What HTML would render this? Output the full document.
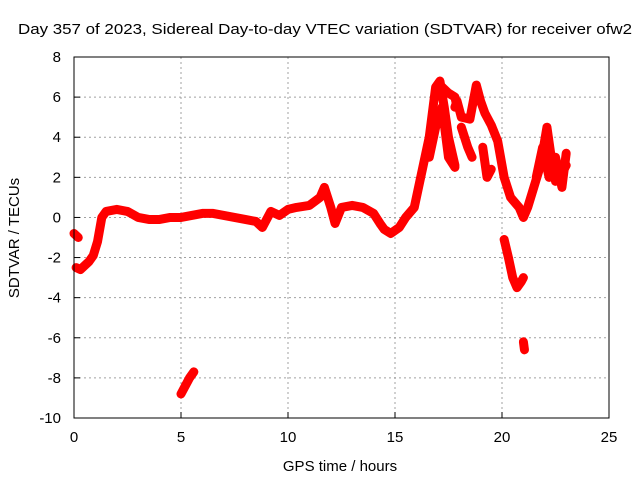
<!DOCTYPE html>
<html><head><meta charset="utf-8"><style>
body{margin:0;background:#fff;}
svg{display:block;font-family:"Liberation Sans",sans-serif;}
</style></head><body>
<svg id="chart" width="640" height="480" viewBox="0 0 640 480">
<rect x="0" y="0" width="640" height="480" fill="#fff"/>
<text x="18" y="34" font-size="15" textLength="614" lengthAdjust="spacingAndGlyphs">Day 357 of 2023, Sidereal Day-to-day VTEC variation (SDTVAR) for receiver ofw2</text>
<g id="grid"></g>
<g id="axes"></g>
<g id="marks"></g>
<rect x="74" y="57" width="535" height="361" fill="none" stroke="#000" stroke-width="1"/>
<text x="340" y="471" font-size="15" text-anchor="middle">GPS time / hours</text>
<text transform="translate(19,238) rotate(-90)" font-size="15" text-anchor="middle">SDTVAR / TECUs</text>
</svg>
<script>
const xTicks=[0,5,10,15,20,25];
const yTicks=[-10,-8,-6,-4,-2,0,2,4,6,8];
const seg1T=[0,0.1,0.2];
const seg1V=[-0.8,-0.9,-1.0];
const seg2T=[0.1,0.3,0.5,0.7,0.9,1.1,1.3,1.5,2,2.5,3,3.5,4,4.5,5,5.5,6,6.5,7,7.5,8,8.5,8.8,9.2,9.6,10,10.4,11,11.5,11.7,12,12.2,12.5,13,13.5,14,14.3,14.5,14.8,15.2,15.5,15.9,16.2,16.6,16.9,17.1,17.3,17.5,17.8];
const seg2V=[-2.5,-2.6,-2.4,-2.2,-1.9,-1.2,0,0.3,0.4,0.3,0,-0.1,-0.1,0,0,0.1,0.2,0.2,0.1,0,-0.1,-0.2,-0.5,0.3,0.1,0.4,0.5,0.6,1.0,1.5,0.5,-0.3,0.5,0.6,0.5,0.2,-0.3,-0.6,-0.8,-0.5,0,0.5,2,4,6.5,6.8,5.5,4,2.6];
const seg3T=[17.8,17.9,18.1,18.5,18.8,19.0,19.2,19.5,19.8,20.1,20.4,20.8,21.0,21.2,21.4,21.8,22.1,22.3,22.5,22.8,23.0];
const seg3V=[5.5,5.8,5.0,4.9,6.6,5.8,5.2,4.6,3.8,2.0,1.0,0.5,0.0,0.5,1.2,2.6,4.5,3.0,1.8,2.2,2.6];
const seg4T=[5.0,5.2,5.4,5.6];
const seg4V=[-8.8,-8.4,-8.0,-7.7];
const seg5T=[20.1,20.3,20.5,20.7,20.9,21.0];
const seg5V=[-1.1,-2.0,-3.0,-3.5,-3.2,-3.0];
const seg6T=[21.0,21.05];
const seg6V=[-6.2,-6.6];
const seg7T=[18.1,18.4,18.6];
const seg7V=[4.5,3.5,3.0];
const seg8T=[19.1,19.3,19.5];
const seg8V=[3.5,2.0,2.4];
const seg9T=[16.6,16.9,17.2,17.5,17.8];
const seg9V=[3.0,4.5,5.5,3.0,2.5];
const seg10T=[21.6,21.9,22.2,22.5,22.8,23.0];
const seg10V=[2.0,3.5,2.0,3.0,1.5,3.2];
const seg11T=[17.2,17.5,17.8,17.9];
const seg11V=[6.5,6.2,6.0,5.5];
const segments=[[seg1T,seg1V],[seg2T,seg2V],[seg3T,seg3V],[seg4T,seg4V],[seg5T,seg5V],[seg6T,seg6V],[seg7T,seg7V],[seg8T,seg8V],[seg9T,seg9V],[seg10T,seg10V],[seg11T,seg11V]];

const X0=74,X1=609,Y0=418,Y1=57;
const xs=t=>X0+(t-0)/(25-0)*(X1-X0);
const ys=v=>Y0-(v+10)/18*(Y0-Y1);
const NS="http://www.w3.org/2000/svg";
const grid=document.getElementById('grid'),axes=document.getElementById('axes'),marks=document.getElementById('marks');
function mk(tag,attrs,parent){const e=document.createElementNS(NS,tag);for(const k in attrs)e.setAttribute(k,attrs[k]);parent.appendChild(e);return e;}
xTicks.forEach(t=>{
  const x=xs(t);
  if(t>0&&t<25){const g=mk('line',{x1:x,x2:x,y1:Y1,y2:Y0,stroke:'#a0a0a0','stroke-dasharray':'2,3'},grid);
  
  }
  const tk=mk('line',{x1:x,x2:x,y1:Y0,y2:Y0-6,stroke:'#000'},axes);
  
  
  const lb=mk('text',{x:x,y:Y0+24,'font-size':15,'text-anchor':'middle'},axes);lb.textContent=t;
  
  
});
yTicks.forEach(v=>{
  const y=ys(v);
  if(v>-10&&v<8){const g=mk('line',{x1:X0,x2:X1,y1:y,y2:y,stroke:'#a0a0a0','stroke-dasharray':'2,3'},grid);
  
  }
  const tk=mk('line',{x1:X0,x2:X0+6,y1:y,y2:y,stroke:'#000'},axes);
  
  
  const lb=mk('text',{x:X0-13,y:y+5,'font-size':15,'text-anchor':'end'},axes);lb.textContent=v;
  
  
});
segments.forEach(([T,V])=>{
  const pts=T.map((t,i)=>xs(t)+','+ys(V[i])).join(' ');
  const pl=mk('polyline',{points:pts,fill:'none',stroke:'#f00','stroke-width':9,'stroke-linejoin':'round','stroke-linecap':'round'},marks);
  
  
  T.forEach((t,i)=>{
    const x=xs(t),y=ys(V[i]);
    const p=mk('path',{d:`M${x-4},${y}H${x+4}M${x},${y-4}V${y+4}`,stroke:'#f00','stroke-width':1.5},marks);
    
    
  });
});
</script>
</body></html>
